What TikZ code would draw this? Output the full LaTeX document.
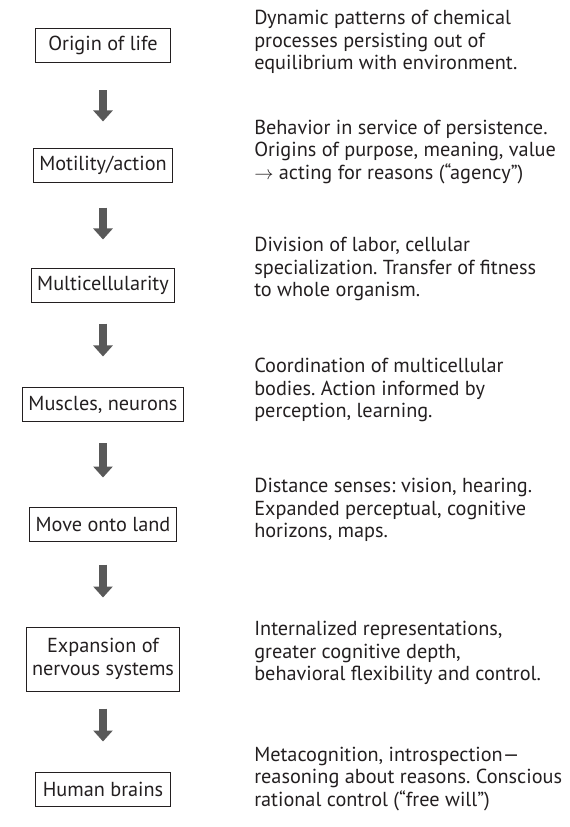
\documentclass[tikz,border=0pt]{standalone}
\usepackage{fontspec}
\setmainfont{PT Sans}
\usetikzlibrary{arrows.meta}
\definecolor{txt}{HTML}{231F20}
\definecolor{arrowgray}{HTML}{595959}
\newcommand\figfont{\fontsize{15.2pt}{17pt}\selectfont\frenchspacing}
\tikzset{
  stagebox/.style={draw=txt, line width=0.75pt, text=txt, align=center,
    inner xsep=4.5pt, inner ysep=0pt, minimum width=101.25pt, minimum height=25.5pt,
    font=\figfont},
  desc/.style={anchor=west, align=left, inner sep=0pt, text=txt, font=\figfont},
  bigarrow/.style={draw=arrowgray, line width=6pt,
    -{Triangle[width=14.25pt,length=8.25pt]}}
}
\begin{document}
\begin{tikzpicture}[x=0.75pt,y=-0.75pt]
\useasboundingbox (0,0) rectangle (570,827);
% boxes
\node[stagebox] (b1) at (103,45.5) {Origin of life};
\node[stagebox] (b2) at (103,165.5) {Motility/action};
\node[stagebox] (b3) at (103,285) {Multicellularity};
\node[stagebox] (b4) at (103,404.5) {Muscles, neurons};
\node[stagebox] (b5) at (103,524.5) {Move onto land};
\node[stagebox, minimum height=48pt] (b6) at (103,659) {Expansion of\\nervous systems};
\node[stagebox] (b7) at (103,789) {Human brains};
% arrows
\draw[bigarrow, shorten <=20.6pt, shorten >=19.9pt] (b1.south) -- (b2.north);
\draw[bigarrow, shorten <=18.4pt, shorten >=21pt] (b2.south) -- (b3.north);
\draw[bigarrow, shorten <=15.75pt, shorten >=22.9pt] (b3.south) -- (b4.north);
\draw[bigarrow, shorten <=16.1pt, shorten >=22.1pt] (b4.south) -- (b5.north);
\draw[bigarrow, shorten <=16.9pt, shorten >=21.75pt] (b5.south) -- (b6.north);
\draw[bigarrow, shorten <=12.75pt, shorten >=22.5pt] (b6.south) -- (b7.north);
% descriptions
\node[desc] (d1) at (254,42) {Dynamic patterns of chemical\\processes persisting out of\\equilibrium with environment.};
\node[desc] (d2) at (254,152) {Behavior in service of persistence.\\Origins of purpose, meaning, value\\$\rightarrow$ acting for reasons (“agency”)};
\node[desc] (d3) at (254,269) {Division of labor, cellular\\specialization. Transfer of fitness\\to whole organism.};
\node[desc] (d4) at (254,390) {Coordination of multicellular\\bodies. Action informed by\\perception, learning.};
\node[desc] (d5) at (254,510) {Distance senses: vision, hearing.\\Expanded perceptual, cognitive\\horizons, maps.};
\node[desc] (d6) at (254,653) {Internalized representations,\\greater cognitive depth,\\behavioral flexibility and control.};
\node[desc] (d7) at (254,779) {Metacognition, introspection—\\reasoning about reasons. Conscious\\rational control (“free will”)};
\end{tikzpicture}
\end{document}
